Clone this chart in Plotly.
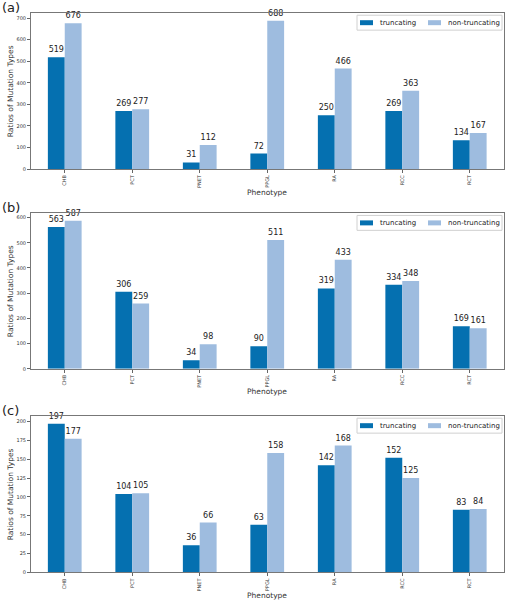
import plotly.graph_objects as go

categories = ["CHB", "PCT", "PNET", "PPGL", "RA", "RCC", "RCT"]
trunc_a = [519, 269, 31, 72, 250, 269, 134]
nontrunc_a = [676, 277, 112, 688, 466, 363, 167]
trunc_b = [563, 306, 34, 90, 319, 334, 169]
nontrunc_b = [587, 259, 98, 511, 433, 348, 161]
trunc_c = [197, 104, 36, 63, 142, 152, 83]
nontrunc_c = [177, 105, 66, 158, 168, 125, 84]
panel_labels = ["(a)", "(b)", "(c)"]

W, H = 505, 604
DARK = "#0570b0"
LIGHT = "#9ebcdf"
FONT = "DejaVu Sans"

panels = [
    (trunc_a, nontrunc_a, 13.3, 170.0, 100),
    (trunc_b, nontrunc_b, 214.5, 370.7, 100),
    (trunc_c, nontrunc_c, 418.3, 575.3, 25),
]

fig = go.Figure()
layout = dict(
    width=W, height=H, margin=dict(l=0, r=0, t=0, b=0),
    paper_bgcolor="white", plot_bgcolor="white",
    barmode="group", bargap=0.5, bargroupgap=0,
    showlegend=False, font=dict(family=FONT, color="#333"),
)
annotations = []
shapes = []
x0, x1 = 31 / W, 503.5 / W

for i, (t, n, top, bot, step) in enumerate(panels):
    k = "" if i == 0 else str(i + 1)
    xa, ya = "x" + k, "y" + k
    for vals, name, col in [(t, "truncating", DARK), (n, "non-truncating", LIGHT)]:
        fig.add_trace(go.Bar(
            x=categories, y=vals, name=name, marker=dict(color=col, line=dict(width=0)),
            text=vals, textposition="outside", textfont=dict(size=8, color="#222", family=FONT),
            cliponaxis=False, xaxis=xa, yaxis=ya, offsetgroup=name,
        ))
    ymax = max(max(t), max(n)) * 1.05
    d0, d1 = 1 - bot / H, 1 - top / H
    layout["xaxis" + k] = dict(
        domain=[x0, x1], anchor=ya, type="category", range=[-0.5, 6.5],
        tickangle=-90, tickfont=dict(size=5, color="#333"), ticks="outside", ticklen=3,
        tickcolor="#666", showline=True, linecolor="#777", linewidth=1, mirror=True,
        showgrid=False,
    )
    layout["yaxis" + k] = dict(
        domain=[d0, d1], anchor=xa, range=[0, ymax], dtick=step, tick0=0,
        tickfont=dict(size=5, color="#333"), ticks="outside", ticklen=3,
        tickcolor="#666", showline=True, linecolor="#777", linewidth=1, mirror=True,
        showgrid=False, zeroline=False,
    )
    # axis titles
    annotations.append(dict(text="Phenotype", x=(x0 + x1) / 2, y=1 - (bot + 23) / H,
                            xref="paper", yref="paper", xanchor="center", yanchor="middle",
                            showarrow=False, font=dict(size=7.5, color="#333", family=FONT)))
    annotations.append(dict(text="Ratios of Mutation Types", x=10 / W, y=1 - (top + bot) / 2 / H,
                            xref="paper", yref="paper", xanchor="center", yanchor="middle",
                            textangle=-90, showarrow=False,
                            font=dict(size=7.5, color="#333", family=FONT)))
    # panel label
    annotations.append(dict(text=panel_labels[i], x=0, y=1 - (top - 6) / H, xref="paper", yref="paper",
                            xanchor="left", yanchor="middle", showarrow=False,
                            font=dict(size=13, color="#222", family=FONT)))
    # legend box (drawn manually, top right of each panel)
    lx0, lx1 = 357, 502
    ly0, ly1 = top + 2, top + 17
    shapes.append(dict(type="rect", xref="paper", yref="paper",
                       x0=lx0 / W, x1=lx1 / W, y0=1 - ly1 / H, y1=1 - ly0 / H,
                       line=dict(color="#d0d0d0", width=1), fillcolor="white", layer="above"))
    yc = (ly0 + ly1) / 2
    for px, label, col in [(360, "truncating", DARK), (428, "non-truncating", LIGHT)]:
        shapes.append(dict(type="rect", xref="paper", yref="paper",
                           x0=px / W, x1=(px + 13) / W, y0=1 - (yc + 2.5) / H, y1=1 - (yc - 2.5) / H,
                           line=dict(width=0), fillcolor=col, layer="above"))
        annotations.append(dict(text=label, x=(px + 18) / W, y=1 - yc / H, xref="paper", yref="paper",
                                xanchor="left", yanchor="middle", showarrow=False,
                                font=dict(size=7, color="#222", family=FONT)))

layout["annotations"] = annotations
layout["shapes"] = shapes
fig.update_layout(**layout)
fig.write_html("out.html", config={"displayModeBar": False},
               post_script="document.body.style.margin='0';document.body.style.overflow='hidden';")
